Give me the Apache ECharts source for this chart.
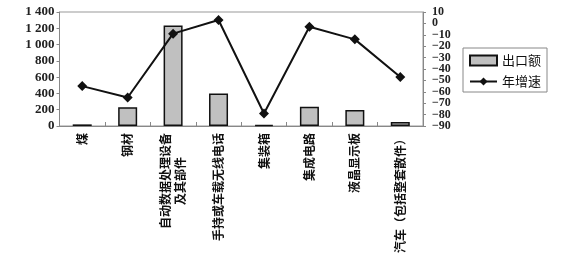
<!DOCTYPE html>
<html><head><meta charset="utf-8">
<script src="https://cdn.jsdelivr.net/npm/echarts@6/dist/echarts.min.js"></script>
<style>html,body{margin:0;padding:0;background:#fff}#c{width:566px;height:262px}</style>
</head><body><div id="c"></div>
<script>
const categories = ['煤','钢材','自动数据处理设备\n及其部件','手持或车载无线电话','集装箱','集成电路','液晶显示板','汽车（包括整套散件）'];
const exportValues = [20, 230, 1235, 400, 15, 235, 195, 50];
const growthValues = [-55, -65, -9, 3, -79, -3, -14, -47];
const leftTicks = {min: 0, max: 1400, interval: 200};
const rightTicks = {min: -90, max: 10, interval: 10};

const chart = echarts.init(document.getElementById('c'), null, {renderer: 'canvas'});
const numFont = 'Liberation Serif';
const cjkFont = 'Noto Sans CJK SC';
const fmtRight = v => (v < 0 ? '\u2212' + Math.abs(v) : String(v));
const rightLabelStyle = {margin: 9, fontFamily: numFont, fontSize: 12, fontWeight: 'bold', color: '#222'};
chart.setOption({
  animation: false,
  grid: {left: 59.5, right: 143, top: 12, bottom: 136, show: true, borderColor: '#999', borderWidth: 1},
  legend: {
    orient: 'vertical', left: 463, top: 48, padding: [6, 6, 4, 6],
    borderColor: '#888', borderWidth: 1, backgroundColor: '#fff',
    itemWidth: 27, itemHeight: 10, itemGap: 8,
    textStyle: {fontFamily: cjkFont, fontSize: 13, color: '#111'},
    data: [
      {name: '出口额', icon: 'rect'},
      {name: '年增速'}
    ]
  },
  xAxis: {
    type: 'category', data: categories,
    axisLine: {lineStyle: {color: '#888', width: 1}},
    axisTick: {show: true, inside: true, length: 4, alignWithLabel: false, lineStyle: {color: '#888'}},
    axisLabel: {
      rotate: 90, interval: 0, margin: 7, fontFamily: cjkFont, fontSize: 12, fontWeight: 'bold', color: '#111', lineHeight: 15,
      formatter: function (v) {
        const parts = v.split('\n');
        if (parts.length === 1) return '{a|' + v + '}';
        return '{a|' + parts[0] + '}\n{b|' + parts[1] + '}';
      },
      rich: {
        a: {fontFamily: cjkFont, fontSize: 12, fontWeight: 'bold', color: '#111', lineHeight: 15},
        b: {fontFamily: cjkFont, fontSize: 12, fontWeight: 'bold', color: '#111', lineHeight: 15, padding: [0, 24, 0, 0]}
      }
    }
  },
  yAxis: [
    {
      type: 'value', min: leftTicks.min, max: leftTicks.max, interval: leftTicks.interval,
      axisLine: {show: true, lineStyle: {color: '#888'}},
      axisTick: {show: true, length: 3, lineStyle: {color: '#888'}},
      splitLine: {show: false},
      axisLabel: {margin: 5, showMinLabel: true, showMaxLabel: true, fontFamily: numFont, fontSize: 13, fontWeight: 'bold', color: '#222',
        formatter: v => v >= 1000 ? String(v).replace(/(\d)(\d{3})$/, '$1 $2') : String(v)}
    },
    {
      type: 'value', min: rightTicks.min, max: rightTicks.max, interval: rightTicks.interval,
      position: 'right',
      axisLine: {show: true, lineStyle: {color: '#888'}},
      axisTick: {show: true, length: 3, lineStyle: {color: '#888'}},
      splitLine: {show: false},
      axisLabel: Object.assign({}, rightLabelStyle, {
        showMinLabel: true, showMaxLabel: true,
        formatter: v => (v === rightTicks.min || v === rightTicks.max) ? fmtRight(v) : ''
      })
    },
    {
      type: 'value', min: rightTicks.min, max: rightTicks.max, interval: rightTicks.interval,
      position: 'right',
      axisLine: {show: false}, axisTick: {show: false}, splitLine: {show: false},
      axisLabel: Object.assign({}, rightLabelStyle, {
        showMinLabel: false, showMaxLabel: false,
        formatter: v => (v === rightTicks.min || v === rightTicks.max) ? '' : fmtRight(v)
      })
    }
  ],
  series: [
    {
      name: '出口额', type: 'bar', data: exportValues, yAxisIndex: 0, barWidth: 19,
      itemStyle: {color: '#c0c0c0', borderColor: '#111', borderWidth: 1.5}
    },
    {
      name: '年增速', type: 'line', data: growthValues, yAxisIndex: 1,
      symbol: 'diamond', symbolSize: 10,
      lineStyle: {color: '#111', width: 2},
      itemStyle: {color: '#111'}
    }
  ]
});
</script></body></html>
